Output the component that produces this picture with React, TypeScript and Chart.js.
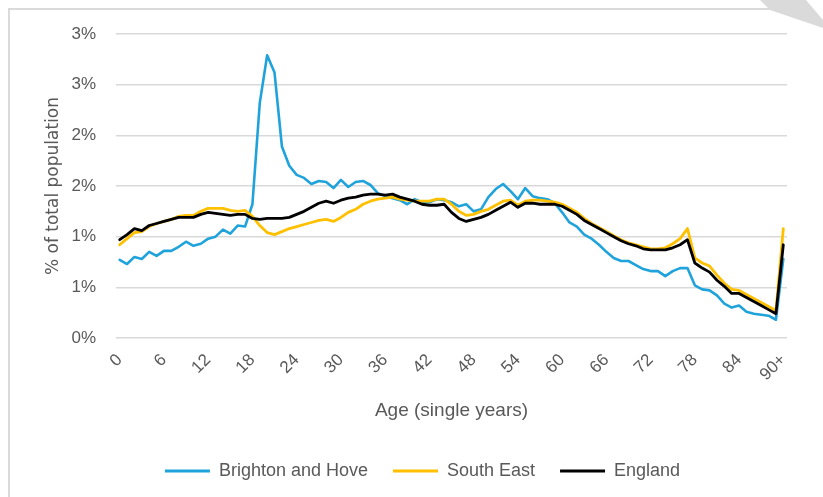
import React, { useEffect, useRef } from "react";
import { Chart, registerables } from "chart.js";

Chart.register(...registerables);

const ages = [
  "0", "1", "2", "3", "4", "5", "6", "7", "8", "9",
  "10", "11", "12", "13", "14", "15", "16", "17", "18", "19",
  "20", "21", "22", "23", "24", "25", "26", "27", "28", "29",
  "30", "31", "32", "33", "34", "35", "36", "37", "38", "39",
  "40", "41", "42", "43", "44", "45", "46", "47", "48", "49",
  "50", "51", "52", "53", "54", "55", "56", "57", "58", "59",
  "60", "61", "62", "63", "64", "65", "66", "67", "68", "69",
  "70", "71", "72", "73", "74", "75", "76", "77", "78", "79",
  "80", "81", "82", "83", "84", "85", "86", "87", "88", "89",
  "90+",
];

const shownAgeLabels = ["0", "6", "12", "18", "24", "30", "36", "42", "48", "54", "60", "66", "72", "78", "84", "90+"];

const yTickLabels = ["0%", "1%", "1%", "2%", "2%", "3%", "3%"];

// % of total population
const brightonAndHove = [
  0.77, 0.73, 0.80, 0.78, 0.85, 0.81, 0.86, 0.86, 0.90, 0.95,
  0.91, 0.93, 0.98, 1.00, 1.07, 1.03, 1.11, 1.10, 1.32, 2.32,
  2.79, 2.62, 1.89, 1.70, 1.61, 1.58, 1.52, 1.55, 1.54, 1.48,
  1.56, 1.49, 1.54, 1.55, 1.51, 1.43, 1.40, 1.38, 1.36, 1.32,
  1.37, 1.34, 1.34, 1.37, 1.36, 1.34, 1.30, 1.32, 1.25, 1.27,
  1.39, 1.47, 1.52, 1.45, 1.37, 1.48, 1.40, 1.38, 1.37, 1.33,
  1.24, 1.14, 1.10, 1.02, 0.98, 0.92, 0.85, 0.79, 0.76, 0.76,
  0.72, 0.68, 0.66, 0.66, 0.61, 0.66, 0.69, 0.69, 0.52, 0.48,
  0.47, 0.42, 0.34, 0.30, 0.32, 0.26, 0.24, 0.23, 0.22, 0.18,
  0.78,
];

const southEast = [
  0.92, 0.98, 1.04, 1.05, 1.10, 1.13, 1.15, 1.17, 1.20, 1.21,
  1.21, 1.25, 1.28, 1.28, 1.28, 1.26, 1.25, 1.26, 1.20, 1.11,
  1.04, 1.02, 1.05, 1.08, 1.10, 1.12, 1.14, 1.16, 1.17, 1.15,
  1.19, 1.24, 1.27, 1.32, 1.35, 1.37, 1.38, 1.39, 1.37, 1.36,
  1.35, 1.35, 1.35, 1.37, 1.37, 1.32, 1.25, 1.21, 1.22, 1.25,
  1.27, 1.31, 1.35, 1.36, 1.31, 1.35, 1.36, 1.36, 1.35, 1.34,
  1.32, 1.28, 1.24, 1.18, 1.13, 1.09, 1.05, 1.01, 0.97, 0.94,
  0.92, 0.90, 0.88, 0.88, 0.89, 0.93, 0.98, 1.08, 0.79, 0.74,
  0.71, 0.62, 0.54, 0.48, 0.47, 0.43, 0.39, 0.35, 0.31, 0.27,
  1.08,
];

const england = [
  0.97, 1.02, 1.08, 1.06, 1.11, 1.13, 1.15, 1.17, 1.19, 1.19,
  1.19, 1.22, 1.24, 1.23, 1.22, 1.21, 1.22, 1.22, 1.18, 1.17,
  1.18, 1.18, 1.18, 1.19, 1.22, 1.25, 1.29, 1.33, 1.35, 1.33,
  1.36, 1.38, 1.39, 1.41, 1.42, 1.42, 1.41, 1.42, 1.39, 1.37,
  1.35, 1.32, 1.31, 1.31, 1.32, 1.24, 1.18, 1.15, 1.17, 1.19,
  1.22, 1.26, 1.30, 1.34, 1.29, 1.33, 1.33, 1.32, 1.32, 1.32,
  1.30, 1.26, 1.22, 1.16, 1.12, 1.08, 1.04, 1.00, 0.96, 0.93,
  0.91, 0.88, 0.87, 0.87, 0.87, 0.89, 0.92, 0.97, 0.74, 0.69,
  0.65, 0.57, 0.51, 0.44, 0.44, 0.40, 0.36, 0.32, 0.28, 0.24,
  0.92,
];

const TEXT = "#595959";
const FONT = "'Liberation Sans', Arial, sans-serif";

export default function App() {
  const canvasRef = useRef<HTMLCanvasElement | null>(null);

  useEffect(() => {
    const canvas = canvasRef.current;
    if (!canvas) return;
    const chart = new Chart(canvas, {
      type: "line",
      data: {
        labels: ages,
        datasets: [
          { label: "Brighton and Hove", data: brightonAndHove, borderColor: "#1FA3DA", backgroundColor: "#1FA3DA", borderWidth: 2.6, order: 3 },
          { label: "South East", data: southEast, borderColor: "#FFC000", backgroundColor: "#FFC000", borderWidth: 2.8, order: 2 },
          { label: "England", data: england, borderColor: "#000000", backgroundColor: "#000000", borderWidth: 2.8, order: 1 },
        ],
      },
      options: {
        animation: false,
        responsive: false,
        events: [],
        layout: { padding: { left: 58, right: 36, top: 34, bottom: 7 } },
        elements: {
          point: { radius: 0 },
          line: { tension: 0, borderJoinStyle: "round", borderCapStyle: "round", fill: false },
        },
        plugins: {
          tooltip: { enabled: false },
          legend: {
            position: "bottom",
            labels: {
              boxWidth: 45,
              boxHeight: 3,
              padding: 25,
              color: TEXT,
              font: { family: FONT, size: 18 },
              generateLabels: (c: any) =>
                c.data.datasets.map((ds: any, i: number) => ({
                  text: ds.label,
                  fillStyle: ds.borderColor,
                  strokeStyle: ds.borderColor,
                  lineWidth: 0,
                  hidden: false,
                  datasetIndex: i,
                  fontColor: TEXT,
                })),
            },
          },
        },
        scales: {
          x: {
            type: "category",
            offset: true,
            grid: { display: false },
            border: { display: false },
            ticks: {
              autoSkip: false,
              maxRotation: 45,
              minRotation: 45,
              padding: 4,
              color: TEXT,
              font: { family: FONT, size: 17 },
              callback: (_v: any, i: number) => (shownAgeLabels.includes(ages[i]) ? ages[i] : null),
            },
            title: {
              display: true,
              text: "Age (single years)",
              color: TEXT,
              font: { family: FONT, size: 19 },
              padding: { top: 0, bottom: 15 },
            },
            afterFit: (s: any) => {
              s.height = 99;
            },
          },
          y: {
            min: 0,
            max: 3,
            ticks: {
              stepSize: 0.5,
              padding: 20,
              color: TEXT,
              font: { family: FONT, size: 17 },
              callback: (_v: any, i: number) => yTickLabels[i],
            },
            grid: { color: "#d9d9d9", lineWidth: 1.6, drawTicks: false },
            border: { display: false },
            title: {
              display: true,
              text: "% of total population",
              color: TEXT,
              font: { family: "'DejaVu Sans', Verdana, sans-serif", size: 17 },
              padding: { top: -15, bottom: 0 },
            },
            afterFit: (s: any) => {
              s.width = 58;
            },
          },
        },
      },
    });
    return () => chart.destroy();
  }, []);

  return (
    <div style={{ position: "absolute", left: 0, top: 0, width: 823, height: 497, background: "#fff", overflow: "hidden" }}>
      <div style={{ position: "absolute", left: 8, top: 8, width: 770, height: 2, background: "#dadada" }} />
      <div style={{ position: "absolute", left: 8, top: 8, width: 2, height: 489, background: "#dadada" }} />
      <div
        style={{
          position: "absolute",
          left: 0,
          top: 0,
          width: 823,
          height: 40,
          background: "#dadada",
          clipPath: "polygon(760px 0px, 806px 0px, 823px 20px, 823px 28px, 770px 10px)",
        }}
      />
      <canvas ref={canvasRef} width={823} height={497} style={{ position: "absolute", left: 0, top: 0, display: "block" }} />
    </div>
  );
}
